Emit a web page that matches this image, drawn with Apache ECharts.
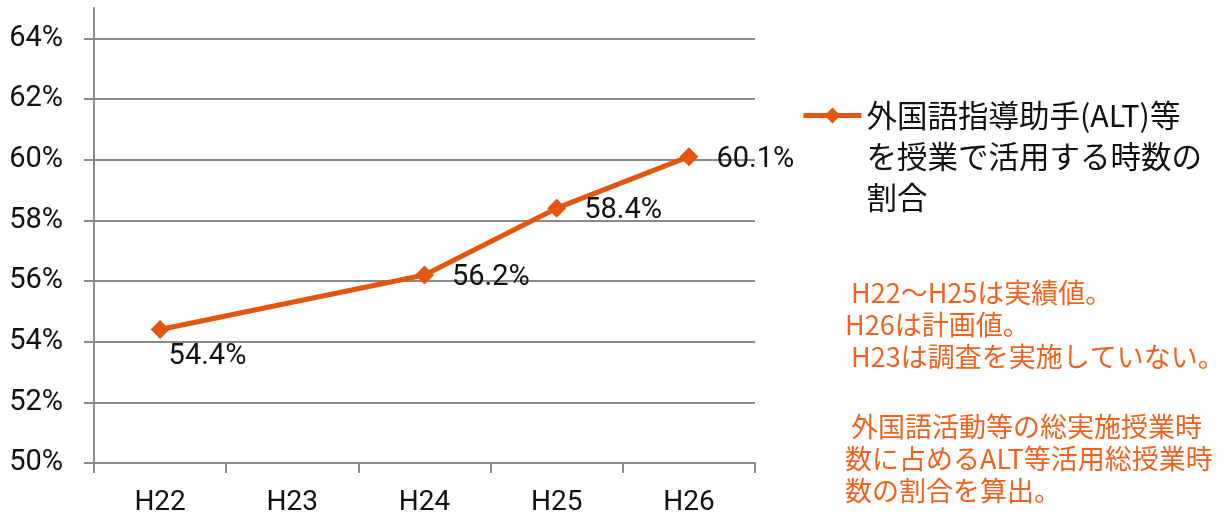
<!DOCTYPE html>
<html lang="ja" style="height: 100%">
  <head>
    <meta charset="utf-8" />
  </head>
  <body style="height: 100%; margin: 0; overflow: hidden; background: #fff">
    <div id="container" style="width: 1232px; height: 517px"></div>
    <script type="text/javascript" src="https://cdn.jsdelivr.net/npm/echarts@6/dist/echarts.min.js"></script>
    <script type="text/javascript">
      const years = ['H22', 'H23', 'H24', 'H25', 'H26']
      // H23 は調査なし
      const altRatio = [54.4, null, 56.2, 58.4, 60.1]
      const yTicks = [50, 52, 54, 56, 58, 60, 62, 64]
      const seriesName = '外国語指導助手(ALT)等\nを授業で活用する時数の\n割合'
      const noteTop = [
        ' H22～H25は実績値。',
        'H26は計画値。',
        ' H23は調査を実施していない。',
      ]
      const noteBottom = [
        ' 外国語活動等の総実施授業時',
        '数に占めるALT等活用総授業時',
        '数の割合を算出。',
      ]

      const FONT = 'Roboto, "Noto Sans CJK JP", sans-serif'
      const LINE = '#E2560F'
      const GRID = '#8a8a8a'
      const NOTE = '#F0621E'

      const dom = document.getElementById('container')
      const myChart = echarts.init(dom, null, { renderer: 'canvas' })

      // 65% の上端には目盛線を引かない
      const gridColors = yTicks.map(() => GRID).concat(['transparent'])

      const option = {
        animation: false,
        textStyle: { fontFamily: FONT },
        grid: { left: 94, right: 477, top: 8, bottom: 54, containLabel: false },
        legend: {
          left: 796,
          top: 8,
          itemWidth: 58,
          itemHeight: 20,
          itemGap: 0,
          selectedMode: false,
          lineStyle: { width: 5 },
          formatter: (name) => '\n\n' + name,
          textStyle: {
            fontFamily: '"Noto Sans CJK JP", sans-serif',
            fontSize: 30.5,
            color: '#111',
            lineHeight: 41,
          },
          data: [seriesName],
        },
        xAxis: {
          type: 'category',
          data: years,
          boundaryGap: true,
          axisLine: { lineStyle: { color: GRID, width: 2 } },
          axisTick: { show: true, length: 10, lineStyle: { color: GRID, width: 2 } },
          axisLabel: { fontSize: 28, color: '#111', margin: 26, fontFamily: FONT },
        },
        yAxis: {
          type: 'value',
          min: 50,
          max: 65,
          interval: 2,
          axisLine: { show: true, lineStyle: { color: GRID, width: 2 } },
          axisTick: {
            show: true,
            length: 10,
            customValues: yTicks,
            lineStyle: { color: GRID, width: 2 },
          },
          axisLabel: {
            customValues: yTicks,
            fontSize: 29,
            color: '#111',
            margin: 31,
            fontFamily: FONT,
            formatter: (v) => v + '%',
          },
          splitLine: { show: true, lineStyle: { color: gridColors, width: 2 } },
        },
        series: [
          {
            name: seriesName,
            type: 'line',
            data: altRatio.map((v, i) =>
              i === 0 && v != null
                ? { value: v, label: { offset: [-19, 27] } }
                : v
            ),
            connectNulls: true,
            symbol: 'diamond',
            symbolSize: 19,
            color: LINE,
            lineStyle: { color: LINE, width: 5 },
            itemStyle: { color: LINE },
            label: {
              show: true,
              position: 'right',
              distance: 18,
              offset: [0, 3],
              fontSize: 29,
              color: '#111',
              fontFamily: FONT,
              formatter: (p) => p.value.toFixed(1) + '%',
            },
          },
        ],
        graphic: [
          {
            type: 'text',
            left: 845,
            top: 277,
            style: {
              text: noteTop.join('\n'),
              fill: NOTE,
              font: '27px "Noto Sans CJK JP", sans-serif',
              lineHeight: 32,
            },
          },
          {
            type: 'text',
            left: 845,
            top: 411,
            style: {
              text: noteBottom.join('\n'),
              fill: NOTE,
              font: '27px "Noto Sans CJK JP", sans-serif',
              lineHeight: 32,
            },
          },
        ],
      }

      myChart.setOption(option)
      window.addEventListener('resize', myChart.resize)
    </script>
  </body>
</html>
